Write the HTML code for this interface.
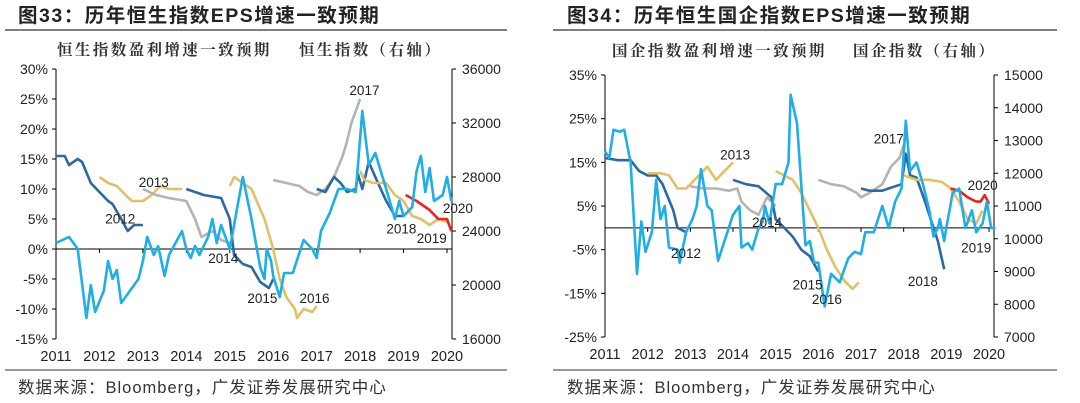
<!DOCTYPE html>
<html><head><meta charset="utf-8">
<style>
body{margin:0;background:#fff;width:1080px;height:403px;overflow:hidden;font-family:"Liberation Sans","Noto Sans CJK SC",sans-serif;}
svg{position:absolute;left:0;top:0}
</style></head>
<body>
<svg id="svg" width="1080" height="403">
<text x="18" y="22" font-size="19.5" font-weight="bold" letter-spacing="1.5" fill="#222">图33：历年恒生指数EPS增速一致预期</text>
<text x="567" y="22" font-size="19.5" font-weight="bold" letter-spacing="1.5" fill="#222">图34：历年恒生国企指数EPS增速一致预期</text>
<line x1="5" y1="30" x2="507" y2="30" stroke="#333" stroke-width="1.2"/>
<line x1="553" y1="30" x2="1057" y2="30" stroke="#333" stroke-width="1.2"/>
<line x1="5" y1="370" x2="507" y2="370" stroke="#333" stroke-width="1"/>
<line x1="553" y1="370" x2="1057" y2="370" stroke="#333" stroke-width="1"/>
<text x="57" y="55" font-size="15.5" letter-spacing="2.4" font-weight="bold" fill="#333" font-family="'Noto Serif CJK SC','Noto Sans CJK SC',serif">恒生指数盈利增速一致预期</text>
<text x="299" y="55" font-size="15.5" letter-spacing="2.4" font-weight="bold" fill="#333" font-family="'Noto Serif CJK SC','Noto Sans CJK SC',serif">恒生指数（右轴）</text>
<text x="612" y="56" font-size="15.5" letter-spacing="2.4" font-weight="bold" fill="#333" font-family="'Noto Serif CJK SC','Noto Sans CJK SC',serif">国企指数盈利增速一致预期</text>
<text x="853" y="56" font-size="15.5" letter-spacing="2.4" font-weight="bold" fill="#333" font-family="'Noto Serif CJK SC','Noto Sans CJK SC',serif">国企指数（右轴）</text>
<text x="18" y="393" font-size="16.5" letter-spacing="1" fill="#333">数据来源：Bloomberg，广发证券发展研究中心</text>
<text x="567" y="393" font-size="16.5" letter-spacing="1" fill="#333">数据来源：Bloomberg，广发证券发展研究中心</text>
<g id="c1"></g>
<g id="c2"></g>
</svg>
<script>
// ---- Chart 33 data ----
const years = [2011,2012,2013,2014,2015,2016,2017,2018,2019,2020];
const c1LeftTicks = [30,25,20,15,10,5,0,-5,-10,-15];
const c1RightTicks = [36000,32000,28000,24000,20000,16000];
const c1s2012 = [[2011.0,15.5],[2011.2,15.5],[2011.3,14],[2011.5,15],[2011.6,14.5],[2011.8,11],[2012.0,9.5],[2012.2,8],[2012.3,7.5],[2012.5,5],[2012.65,3],[2012.8,4],[2013.0,4]];
const c1s2013 = [[2012.0,12],[2012.2,11],[2012.4,10.5],[2012.6,9],[2012.75,8],[2013.0,8],[2013.2,9],[2013.4,10.5],[2013.6,10],[2013.9,10]];
const c1s2014 = [[2013.0,10],[2013.3,9],[2013.6,8.5],[2014.0,8],[2014.2,5],[2014.35,2],[2014.6,3],[2014.8,1.5],[2015.0,1]];
const c1s2015 = [[2014.0,10],[2014.4,9],[2014.8,8.5],[2015.0,5],[2015.1,-1],[2015.3,-2.5],[2015.5,-3],[2015.7,-5.5],[2015.9,-6.5],[2016.0,-5]];
const c1s2016 = [[2015.0,10.5],[2015.1,12],[2015.3,11],[2015.5,10],[2015.8,5],[2016.0,0],[2016.15,-5],[2016.3,-8],[2016.5,-10],[2016.55,-11.5],[2016.7,-10],[2016.9,-10.5],[2017.0,-9.5]];
const c1s2017 = [[2016.0,11.5],[2016.3,11],[2016.6,10.5],[2016.8,9.5],[2017.0,9],[2017.2,10],[2017.4,12],[2017.6,15.5],[2017.7,18],[2017.8,21],[2018.0,25]];
const c1s2018 = [[2017.0,10],[2017.2,9.5],[2017.4,12],[2017.55,11],[2017.7,9.5],[2017.9,10],[2017.95,12.5],[2018.05,10],[2018.2,14.5],[2018.35,12],[2018.6,8],[2018.8,5.5],[2019.0,5.5]];
const c1s2019 = [[2018.0,13],[2018.1,11.5],[2018.3,11],[2018.6,11],[2018.8,9],[2019.0,8],[2019.2,5.5],[2019.4,5],[2019.6,4],[2019.8,5],[2020.0,4.5]];
const c1s2020 = [[2019.05,9],[2019.3,8],[2019.6,6.5],[2019.8,5],[2020.0,5],[2020.1,3]];
const c1IndexDates = [2011,2011.3,2011.5,2011.7,2011.8,2011.9,2012.1,2012.2,2012.3,2012.4,2012.5,2012.7,2012.9,2013.0,2013.1,2013.25,2013.35,2013.5,2013.6,2013.9,2014.0,2014.1,2014.2,2014.3,2014.5,2014.6,2014.7,2014.8,2015.0,2015.1,2015.3,2015.5,2015.7,2015.8,2015.85,2015.95,2016.0,2016.15,2016.25,2016.45,2016.7,2016.9,2017.0,2017.1,2017.3,2017.5,2017.7,2017.9,2018.05,2018.2,2018.35,2018.6,2018.8,2018.9,2019.0,2019.2,2019.3,2019.4,2019.5,2019.6,2019.7,2019.9,2020.0,2020.1];
const c1IndexValues = [23110,23560,22670,17560,20000,18000,19560,21780,20450,21110,18670,19560,20450,21780,23560,22220,22890,20670,22220,24000,22670,22000,22890,22220,23560,24890,23110,24450,22670,24450,28000,24890,21330,20450,22670,21780,20670,19110,20890,20890,23330,22670,22000,24000,25330,27110,27110,26890,32890,28890,29780,27110,24890,26220,25110,25780,28440,29560,26890,28670,26220,26670,28000,26220];
const c1LabelText = ["2017","2013","2012","2014","2015","2016","2018","2020","2019"];
const c1LabelPos = [[2018.1,26.5],[2013.25,11.2],[2012.48,5.1],[2014.85,-1.5],[2015.75,-8.2],[2016.95,-8.2],[2018.95,3.4],[2020.25,6.8],[2019.65,1.8]];

// ---- Chart 34 data ----
const c2LeftTicks = [35,25,15,5,-5,-15,-25];
const c2RightTicks = [15000,14000,13000,12000,11000,10000,9000,8000,7000];
const c2s2012 = [[2011.0,16],[2011.3,15.5],[2011.6,15.5],[2011.8,13],[2012.0,12],[2012.2,12],[2012.35,10],[2012.6,4],[2012.7,0],[2012.9,-1]];
const c2s2013 = [[2012.0,12.5],[2012.3,12.5],[2012.5,12],[2012.7,9],[2012.9,9],[2013.1,11],[2013.4,14],[2013.6,11],[2013.8,13],[2014.0,15]];
const c2s2014 = [[2013.0,9.5],[2013.3,9],[2013.6,9],[2013.9,8.5],[2014.1,9],[2014.2,6],[2014.4,4],[2014.6,3],[2014.8,7],[2015.0,5]];
const c2s2015 = [[2014.0,11],[2014.3,10],[2014.6,9.5],[2014.9,7],[2015.0,2],[2015.2,0],[2015.4,-2],[2015.6,-5],[2015.8,-6.5],[2016.0,-10]];
const c2s2016 = [[2015.0,13],[2015.2,12],[2015.4,11],[2015.6,8],[2015.8,4],[2016.0,0],[2016.2,-5],[2016.4,-9],[2016.6,-12],[2016.8,-14],[2016.95,-12.5]];
const c2s2017 = [[2016.0,11],[2016.3,10],[2016.6,9.5],[2016.9,8],[2017.0,7],[2017.2,8],[2017.5,10],[2017.7,14],[2017.9,16],[2018.0,19]];
const c2s2018 = [[2017.0,9],[2017.2,8.5],[2017.5,8.5],[2017.8,9.5],[2017.95,10],[2018.05,17],[2018.15,12],[2018.3,11.5],[2018.5,6],[2018.7,0],[2018.8,-3],[2018.95,-9.5]];
const c2s2019 = [[2018.0,12],[2018.3,11],[2018.6,11],[2018.9,10.5],[2019.1,9],[2019.3,6],[2019.5,2],[2019.7,1],[2019.85,4]];
const c2s2020 = [[2019.1,9],[2019.3,8.5],[2019.5,7],[2019.7,6],[2019.8,6],[2019.9,7.5],[2020.0,5.5]];
const c2IndexDates = [2011,2011.1,2011.2,2011.35,2011.45,2011.6,2011.75,2011.85,2011.95,2012.1,2012.2,2012.3,2012.4,2012.5,2012.7,2012.75,2012.9,2013.05,2013.15,2013.25,2013.4,2013.5,2013.65,2013.8,2014.0,2014.15,2014.2,2014.35,2014.45,2014.6,2014.7,2014.75,2014.85,2015.0,2015.15,2015.3,2015.35,2015.5,2015.7,2015.8,2015.9,2016.0,2016.15,2016.3,2016.5,2016.7,2016.85,2017.0,2017.1,2017.3,2017.5,2017.65,2017.8,2017.95,2018.05,2018.15,2018.3,2018.45,2018.6,2018.7,2018.8,2018.85,2018.95,2019.0,2019.15,2019.3,2019.45,2019.6,2019.7,2019.85,2019.95,2020.05,2020.15];
const c2IndexValues = [12670,12470,13330,13270,13330,12330,8930,10530,9600,10200,11800,10600,11000,9730,9670,9270,10200,10600,11000,12130,11000,10870,9330,9930,10730,11000,9730,9870,9670,10330,10530,11000,10470,11670,11670,12330,14400,13530,9800,9930,9270,9270,7930,8930,8670,9400,9600,9530,10200,10200,11000,10330,11130,11530,13600,12070,12330,11670,10870,10070,10330,10600,9930,10330,11400,11530,10330,10870,10200,10470,11130,10330,10330];
const c2LabelText = ["2017","2013","2014","2012","2015","2016","2018","2019","2020"];
const c2LabelPos = [[2017.65,20.5],[2014.05,16.8],[2014.8,1.3],[2012.9,-5.8],[2015.75,-13],[2016.2,-16.3],[2018.45,-12.2],[2019.7,-4.5],[2019.85,9.8]];

const COL={db:"#2C69A3",ye:"#E2C06A",gr:"#B4B4B4",rd:"#E8251F",lb:"#20AEE6"};
const NS="http://www.w3.org/2000/svg";
function el(tag,attrs,parent){const e=document.createElementNS(NS,tag);for(const k in attrs)e.setAttribute(k,attrs[k]);parent.appendChild(e);return e;}

function draw(g,cfg){
  const xs=v=>cfg.x0+(v-2011)*(cfg.x1-cfg.x0)/9;
  const yl=v=>cfg.yTop+(cfg.lMax-v)*(cfg.yBot-cfg.yTop)/(cfg.lMax-cfg.lMin);
  const yr=v=>cfg.yTop+(cfg.rMax-v)*(cfg.yBot-cfg.yTop)/(cfg.rMax-cfg.rMin);
  const la=el("line",{x1:cfg.x0,y1:cfg.yTop,x2:cfg.x0,y2:cfg.yBot,stroke:"#000","stroke-width":1},g);
  
  
  const ra=el("line",{x1:cfg.xr,y1:cfg.yTop,x2:cfg.xr,y2:cfg.yBot,stroke:"#000","stroke-width":1},g);
  
  
  const za=el("line",{x1:cfg.x0,y1:yl(0),x2:cfg.xr,y2:yl(0),stroke:"#000","stroke-width":1},g);
  
  
  cfg.lt.forEach(v=>{
    const tk=el("line",{x1:cfg.x0-4,y1:yl(v),x2:cfg.x0,y2:yl(v),stroke:"#000"},g);
    
    
    const t=el("text",{x:cfg.x0-8,y:yl(v)+5,"font-size":14,"text-anchor":"end",fill:"#222"},g);t.textContent=v+"%";
    
    
  });
  cfg.rt.forEach(v=>{
    const tk=el("line",{x1:cfg.xr,y1:yr(v),x2:cfg.xr+4,y2:yr(v),stroke:"#000"},g);
    
    
    const t=el("text",{x:cfg.xr+10,y:yr(v)+5,"font-size":14,fill:"#222"},g);t.textContent=v;
    
    
  });
  years.forEach(v=>{
    const tk=el("line",{x1:xs(v),y1:yl(0),x2:xs(v),y2:yl(0)+4,stroke:"#000"},g);
    
    
    const t=el("text",{x:xs(v),y:cfg.xLabY,"font-size":14.5,"text-anchor":"middle",fill:"#222"},g);t.textContent=v;
    
    
  });
  cfg.series.forEach(([pts,col,nm])=>{
    const p=el("polyline",{points:pts.map(d=>xs(d[0]).toFixed(1)+","+yl(d[1]).toFixed(1)).join(" "),fill:"none",stroke:col,"stroke-width":2.6,"stroke-linejoin":"round"},g);
    
    
  });
  const ip=el("polyline",{points:cfg.idxD.map((d,i)=>xs(d).toFixed(1)+","+yr(cfg.idxV[i]).toFixed(1)).join(" "),fill:"none",stroke:COL.lb,"stroke-width":2.6,"stroke-linejoin":"round"},g);
  
  
  cfg.labT.forEach((s,i)=>{
    const t=el("text",{x:xs(cfg.labP[i][0]),y:yl(cfg.labP[i][1])+5,"font-size":13.5,"text-anchor":"middle",fill:"#222"},g);t.textContent=s;
    
    
  });
}
draw(document.getElementById("c1"),{x0:56,x1:447,xr:452,yTop:69,yBot:339,lMax:30,lMin:-15,rMax:36000,rMin:16000,lt:c1LeftTicks,rt:c1RightTicks,xLabY:361,
 series:[[c1s2012,COL.db,"eps-2012"],[c1s2013,COL.ye,"eps-2013"],[c1s2014,COL.gr,"eps-2014"],[c1s2015,COL.db,"eps-2015"],[c1s2016,COL.ye,"eps-2016"],[c1s2017,COL.gr,"eps-2017"],[c1s2018,COL.db,"eps-2018"],[c1s2019,COL.ye,"eps-2019"],[c1s2020,COL.rd,"eps-2020"]],
 idxD:c1IndexDates,idxV:c1IndexValues,labT:c1LabelText,labP:c1LabelPos});
draw(document.getElementById("c2"),{x0:605,x1:989,xr:994,yTop:75,yBot:337,lMax:35,lMin:-25,rMax:15000,rMin:7000,lt:c2LeftTicks,rt:c2RightTicks,xLabY:359,
 series:[[c2s2012,COL.db,"eps-2012"],[c2s2013,COL.ye,"eps-2013"],[c2s2014,COL.gr,"eps-2014"],[c2s2015,COL.db,"eps-2015"],[c2s2016,COL.ye,"eps-2016"],[c2s2017,COL.gr,"eps-2017"],[c2s2018,COL.db,"eps-2018"],[c2s2019,COL.ye,"eps-2019"],[c2s2020,COL.rd,"eps-2020"]],
 idxD:c2IndexDates,idxV:c2IndexValues,labT:c2LabelText,labP:c2LabelPos});
</script>
</body></html>
